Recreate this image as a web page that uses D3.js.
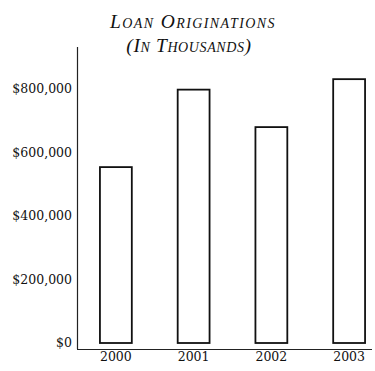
<!DOCTYPE html>
<meta charset="utf-8">
<style>
  body { margin: 0; background: #fff; }
  .tick-label { font-family: "DejaVu Serif", serif; font-size: 12.5px; fill: #111; }
  .title { font-family: "Liberation Serif", "Times New Roman", serif; font-style: italic; font-variant: small-caps; font-size: 19.5px; fill: #111; }
</style>
<body>
<script src="https://d3js.org/d3.v7.min.js"></script>
<script>

var width = 375,
    height = 371;

// loan originations, thousands of dollars
var years = ["2000", "2001", "2002", "2003"];
var originations = [554000, 798000, 680000, 831000];
var yTicks = [0, 200000, 400000, 600000, 800000];
var titleLines = ["Loan Originations", "(In Thousands)"];

var svg = d3.select("body").append("svg")
    .attr("width", width)
    .attr("height", height);

var x = d3.scaleBand()
    .domain(years)
    .range([77, 388])
    .paddingInner(0.59)
    .paddingOuter(0.295);

var y = d3.scaleLinear()
    .domain([0, 800000])
    .range([343, 89]);

// title, two lines spaced out a bit like the print version
var titleX = [193, 189],
    titleY = [28, 52],
    titleSpacing = [1.4, 0.6];

svg.selectAll(".title")
    .data(titleLines)
    .enter().append("text")
    .attr("class", "title")
    .attr("x", function(d, i) { return titleX[i]; })
    .attr("y", function(d, i) { return titleY[i]; })
    .attr("text-anchor", "middle")
    .style("letter-spacing", function(d, i) { return titleSpacing[i] + "px"; })
    .text(function(d) { return d; });

// axes drawn as plain lines, no tick marks in the original
svg.append("line")
    .attr("x1", 77.5).attr("x2", 77.5)
    .attr("y1", 47).attr("y2", 349)
    .attr("stroke", "#222").attr("stroke-width", 1.2);

svg.append("line")
    .attr("x1", 77).attr("x2", 372)
    .attr("y1", 349.5).attr("y2", 349.5)
    .attr("stroke", "#222").attr("stroke-width", 1.2);

svg.selectAll(".ylab")
    .data(yTicks)
    .enter().append("text")
    .attr("class", "tick-label")
    .attr("x", 72)
    .attr("y", function(d) { return y(d); })
    .attr("dy", "0.35em")
    .attr("text-anchor", "end")
    .text(function(d) { return "$" + d3.format(",")(d); });

svg.selectAll(".xlab")
    .data(years)
    .enter().append("text")
    .attr("class", "tick-label")
    .attr("x", function(d) { return x(d) + x.bandwidth() / 2; })
    .attr("y", 357)
    .attr("dy", "0.35em")
    .attr("text-anchor", "middle")
    .text(function(d) { return d; });

// bars: open outlines
svg.selectAll(".bar")
    .data(originations)
    .enter().append("rect")
    .attr("class", "bar")
    .attr("x", function(d, i) { return x(years[i]); })
    .attr("y", function(d) { return y(d); })
    .attr("width", x.bandwidth())
    .attr("height", function(d) { return y(0) - y(d); })
    .attr("fill", "#fff")
    .attr("stroke", "#111")
    .attr("stroke-width", 1.8);

</script>
</body>
